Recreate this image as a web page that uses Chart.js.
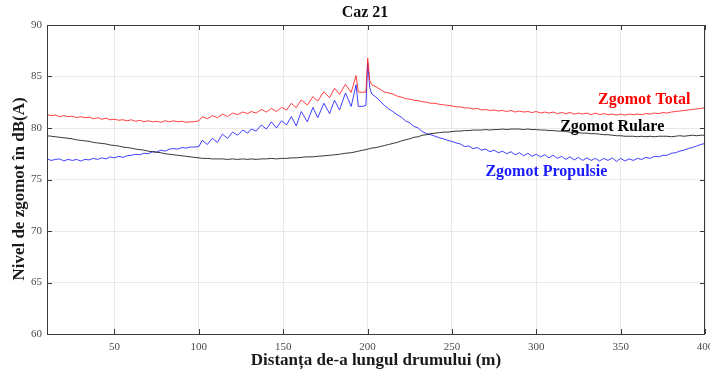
<!DOCTYPE html>
<html>
<head>
<meta charset="utf-8">
<script src="https://cdn.jsdelivr.net/npm/chart.js@4.4.1/dist/chart.umd.min.js"></script>
<style>
  html, body { margin: 0; padding: 0; background: #ffffff; }
  #wrap { width: 710px; height: 374px; }
</style>
</head>
<body>
<div id="wrap"><canvas id="c" width="710" height="374"></canvas></div>
<script>
// Distance along the road (m)
const distance = [
  10, 12.5, 15, 17.5, 20, 22.5, 25, 27.5, 30, 32.5,
  35, 37.5, 40, 42.5, 45, 47.5, 50, 52.5, 55, 57.5,
  60, 62.5, 65, 67.5, 70, 72.5, 75, 77.5, 80, 82.5,
  85, 87.5, 90, 92.5, 95,
  97, 100, 102, 105, 108, 111, 114, 117, 120, 123,
  126, 129, 131, 134, 137, 140, 143, 146, 149, 152,
  154.8, 157.7, 160.7, 164.3, 167.6, 170.5, 174.1, 177.5, 180.4, 183.4,
  186.9, 190.3, 193.2, 194.5, 197.2, 199, 200.1, 201.3, 202.5,
  205, 207.5, 210, 212.5, 215, 217.5, 220, 222.5, 225, 227.5,
  230, 232.5, 235, 237.5, 240, 242.5, 245, 247.5, 250, 252.5,
  255, 257.5, 260, 262.5, 265, 267.5, 270, 272.5, 275, 277.5,
  280, 282.5, 285, 287.5, 290, 292.5, 295, 297.5, 300, 302.5,
  305, 307.5, 310, 312.5, 315, 317.5, 320, 322.5, 325, 327.5,
  330, 332.5, 335, 337.5, 340, 342.5, 345, 347.5, 350, 352.5,
  355, 357.5, 360, 362.5, 365, 367.5, 370, 372.5, 375, 377.5,
  380, 382.5, 385, 387.5, 390, 392.5, 395, 397.5, 400
];

// Total noise level, dB(A)
const zgomotTotal = [
  81.3, 81.2, 81.25, 81.1, 81.2, 81.1, 81.15, 81.0, 81.1, 81.0,
  81.05, 80.9, 81.0, 80.85, 80.95, 80.8, 80.85, 80.75, 80.8, 80.7,
  80.8, 80.65, 80.75, 80.6, 80.7, 80.6, 80.65, 80.55, 80.7, 80.6,
  80.7, 80.6, 80.65, 80.55, 80.6,
  80.6, 80.7, 81.1, 80.9, 81.2, 81.0, 81.35, 81.1, 81.45, 81.3,
  81.55, 81.4, 81.6, 81.45, 81.8, 81.55, 81.9, 81.6, 82.0, 81.75,
  82.4, 81.97, 82.72, 82.23, 83.04, 82.62, 83.53, 82.94, 83.85, 83.27,
  84.24, 83.46, 85.08, 83.5, 83.46, 83.5, 86.77, 84.6, 84.2,
  84.0, 83.75, 83.5, 83.4, 83.3, 83.1, 83.0, 82.85, 82.8, 82.7,
  82.65, 82.55, 82.5, 82.4, 82.4, 82.3, 82.25, 82.2, 82.15, 82.05,
  82.05, 81.95, 81.95, 81.85, 81.9, 81.75, 81.8, 81.7, 81.75, 81.65,
  81.7, 81.6, 81.7, 81.55, 81.65, 81.55, 81.6, 81.5, 81.6, 81.45,
  81.55, 81.45, 81.55, 81.4, 81.5, 81.4, 81.5, 81.35, 81.45, 81.35,
  81.45, 81.3, 81.45, 81.3, 81.4, 81.3, 81.35, 81.25, 81.35, 81.25,
  81.35, 81.3, 81.35, 81.3, 81.4, 81.35, 81.45, 81.4, 81.5, 81.45,
  81.55, 81.6, 81.65, 81.7, 81.75, 81.8, 81.85, 81.9, 81.95
];

// Rolling noise level, dB(A)
const zgomotRulare = [
  79.25, 79.2, 79.15, 79.1, 79.05, 79.0, 78.95, 78.85, 78.8, 78.75,
  78.7, 78.6, 78.55, 78.5, 78.45, 78.35, 78.3, 78.25, 78.15, 78.1,
  78.05, 77.95, 77.9, 77.85, 77.75, 77.7, 77.65, 77.6, 77.5, 77.45,
  77.4, 77.35, 77.3, 77.25, 77.2,
  77.15, 77.1, 77.05, 77.05, 77.0, 77.0, 77.0, 76.95, 77.0, 76.95,
  77.0, 76.95, 77.0, 76.95, 77.0, 77.0, 77.05, 77.0, 77.05, 77.05,
  77.1, 77.1, 77.15, 77.2, 77.2, 77.25, 77.3, 77.35, 77.4, 77.45,
  77.55, 77.6, 77.7, 77.75, 77.85, 77.9, 77.95, 78.0, 78.05,
  78.1, 78.2, 78.3, 78.4, 78.5, 78.6, 78.75, 78.85, 78.95, 79.1,
  79.15, 79.3, 79.35, 79.45, 79.5, 79.55, 79.6, 79.6, 79.65, 79.7,
  79.7, 79.75, 79.75, 79.8, 79.8, 79.8, 79.85, 79.8, 79.85, 79.85,
  79.9, 79.85, 79.9, 79.9, 79.9, 79.85, 79.9, 79.85, 79.85, 79.8,
  79.8, 79.75, 79.75, 79.7, 79.7, 79.65, 79.6, 79.55, 79.55, 79.5,
  79.5, 79.45, 79.45, 79.4, 79.35, 79.35, 79.3, 79.25, 79.25, 79.2,
  79.2, 79.2, 79.15, 79.2, 79.15, 79.2, 79.15, 79.2, 79.2, 79.2,
  79.15, 79.2, 79.25, 79.2, 79.25, 79.3, 79.25, 79.3, 79.3
];

// Propulsion noise level, dB(A)
const zgomotPropulsie = [
  77.0, 76.85, 76.95, 77.0, 76.8, 76.95, 76.85, 76.95, 76.8, 76.95,
  76.9, 77.05, 76.95, 77.1, 77.0, 77.2, 77.1, 77.25, 77.15, 77.3,
  77.35, 77.45, 77.4, 77.55, 77.5, 77.7, 77.65, 77.85, 77.75, 77.95,
  78.0, 77.95, 78.1, 78.05, 78.15,
  78.15, 78.2, 78.8, 78.4, 79.0, 78.6, 79.4, 79.0, 79.6, 79.3,
  79.8, 79.5, 79.9, 79.7, 80.3, 79.9, 80.6, 80.0, 80.7, 80.3,
  81.1, 80.2, 81.6, 80.6, 82.0, 81.0, 82.4, 81.4, 82.7, 81.75,
  83.4, 82.1, 84.2, 82.1, 82.1, 82.2, 86.3, 83.9, 83.3,
  83.0, 82.6, 82.2, 81.85, 81.6, 81.3, 81.05, 80.7, 80.5, 80.15,
  80.0, 79.65, 79.45, 79.35, 79.2, 79.05, 78.95, 78.8, 78.7, 78.55,
  78.45, 78.2, 78.25, 78.0, 78.1, 77.85, 77.95, 77.7, 77.85, 77.6,
  77.75, 77.5, 77.7, 77.4, 77.6, 77.3, 77.55, 77.25, 77.45, 77.2,
  77.4, 77.1, 77.35, 77.05, 77.25, 76.95, 77.2, 76.9, 77.15, 76.85,
  77.1, 76.85, 77.05, 76.8, 77.05, 76.85, 77.1, 76.75, 77.05, 76.8,
  77.0, 76.85, 77.05, 76.95, 77.15, 77.05, 77.25, 77.2, 77.35, 77.35,
  77.55, 77.6, 77.75, 77.85, 78.0, 78.1, 78.25, 78.4, 78.5
];

const seriesNames = ['Zgomot Total', 'Zgomot Rulare', 'Zgomot Propulsie'];
const xTickValues = [50, 100, 150, 200, 250, 300, 350, 400];
const yTickValues = [60, 65, 70, 75, 80, 85, 90];

const SERIF = '"Liberation Serif", "Times New Roman", serif';

const toPoints = vals => distance.map((d, i) => ({ x: d, y: vals[i] }));

// Series name labels, anchored in data coordinates
const seriesLabelAnchors = [
  { x: 364, y: 82.7, color: '#ff0000' },
  { x: 345, y: 80.1, color: '#000000' },
  { x: 306, y: 75.7, color: '#1a1aff' }
];

const decorPlugin = {
  id: 'decor',
  afterDatasetsDraw(chart) {
    const { ctx, chartArea: a, scales: { x, y } } = chart;
    ctx.save();
    // axes box
    ctx.strokeStyle = '#3a3a3a';
    ctx.lineWidth = 1;
    ctx.beginPath();
    ctx.moveTo(a.left + 0.5, a.bottom + 0.5);
    ctx.lineTo(a.left + 0.5, a.top + 0.5);
    ctx.lineTo(a.right - 0.5, a.top + 0.5);
    ctx.lineTo(a.right - 0.5, a.bottom + 0.5);
    ctx.lineTo(a.left + 0.5, a.bottom + 0.5);
    ctx.stroke();
    // inward tick marks
    ctx.beginPath();
    xTickValues.forEach(v => {
      const px = Math.round(x.getPixelForValue(v)) + 0.5;
      ctx.moveTo(px, a.bottom); ctx.lineTo(px, a.bottom - 5);
      ctx.moveTo(px, a.top); ctx.lineTo(px, a.top + 5);
    });
    yTickValues.forEach(v => {
      const py = Math.round(y.getPixelForValue(v)) + 0.5;
      ctx.moveTo(a.left, py); ctx.lineTo(a.left + 5, py);
      ctx.moveTo(a.right, py); ctx.lineTo(a.right - 5, py);
    });
    ctx.stroke();

    // series labels
    ctx.font = 'bold 16px ' + SERIF;
    ctx.textAlign = 'center';
    ctx.textBaseline = 'middle';
    seriesNames.forEach((name, i) => {
      const an = seriesLabelAnchors[i];
      ctx.fillStyle = an.color;
      ctx.fillText(name, x.getPixelForValue(an.x), y.getPixelForValue(an.y));
    });

    // title
    ctx.fillStyle = '#111111';
    ctx.font = 'bold 16px ' + SERIF;
    ctx.fillText('Caz 21', 365, 13);

    // axis titles
    ctx.fillStyle = '#1a1a1a';
    ctx.font = 'bold 17px ' + SERIF;
    ctx.fillText('Distanța de-a lungul drumului (m)', (a.left + a.right) / 2, 361);
    ctx.save();
    ctx.translate(20, 189);
    ctx.rotate(-Math.PI / 2);
    ctx.fillText('Nivel de zgomot în dB(A)', 0, 0);
    ctx.restore();
    ctx.restore();
  }
};

const lineStyle = (color) => ({
  borderColor: color,
  borderWidth: 1,
  pointRadius: 0,
  tension: 0,
  fill: false
});

new Chart(document.getElementById('c'), {
  type: 'line',
  data: {
    datasets: [
      { label: seriesNames[0], data: toPoints(zgomotTotal), ...lineStyle('rgba(255,30,30,0.85)') },
      { label: seriesNames[1], data: toPoints(zgomotRulare), ...lineStyle('rgba(20,20,20,0.85)') },
      { label: seriesNames[2], data: toPoints(zgomotPropulsie), ...lineStyle('rgba(30,30,255,0.85)') }
    ]
  },
  options: {
    responsive: false,
    animation: false,
    layout: { padding: { top: 25, right: 5, left: 0, bottom: 0 } },
    plugins: {
      legend: { display: false },
      tooltip: { enabled: false },
      title: { display: false }
    },
    scales: {
      x: {
        type: 'linear',
        min: 10,
        max: 400,
        afterFit: s => { s.height = 40; s.paddingLeft = 0; s.paddingRight = 0; },
        afterBuildTicks: s => { s.ticks = xTickValues.map(v => ({ value: v })); },
        grid: { color: '#e8e8e8', drawTicks: false, lineWidth: 1 },
        border: { display: false },
        ticks: {
          padding: 7,
          color: '#4a4a4a',
          font: { family: SERIF, size: 11 },
          maxRotation: 0,
          autoSkip: false
        }
      },
      y: {
        type: 'linear',
        min: 60,
        max: 90,
        afterFit: s => { s.width = 47; s.paddingTop = 0; s.paddingBottom = 0; },
        afterBuildTicks: s => { s.ticks = yTickValues.map(v => ({ value: v })); },
        grid: { color: '#e8e8e8', drawTicks: false, lineWidth: 1 },
        border: { display: false },
        ticks: {
          padding: 5,
          color: '#4a4a4a',
          font: { family: SERIF, size: 11 },
          autoSkip: false
        }
      }
    }
  },
  plugins: [decorPlugin]
});
</script>
</body>
</html>
